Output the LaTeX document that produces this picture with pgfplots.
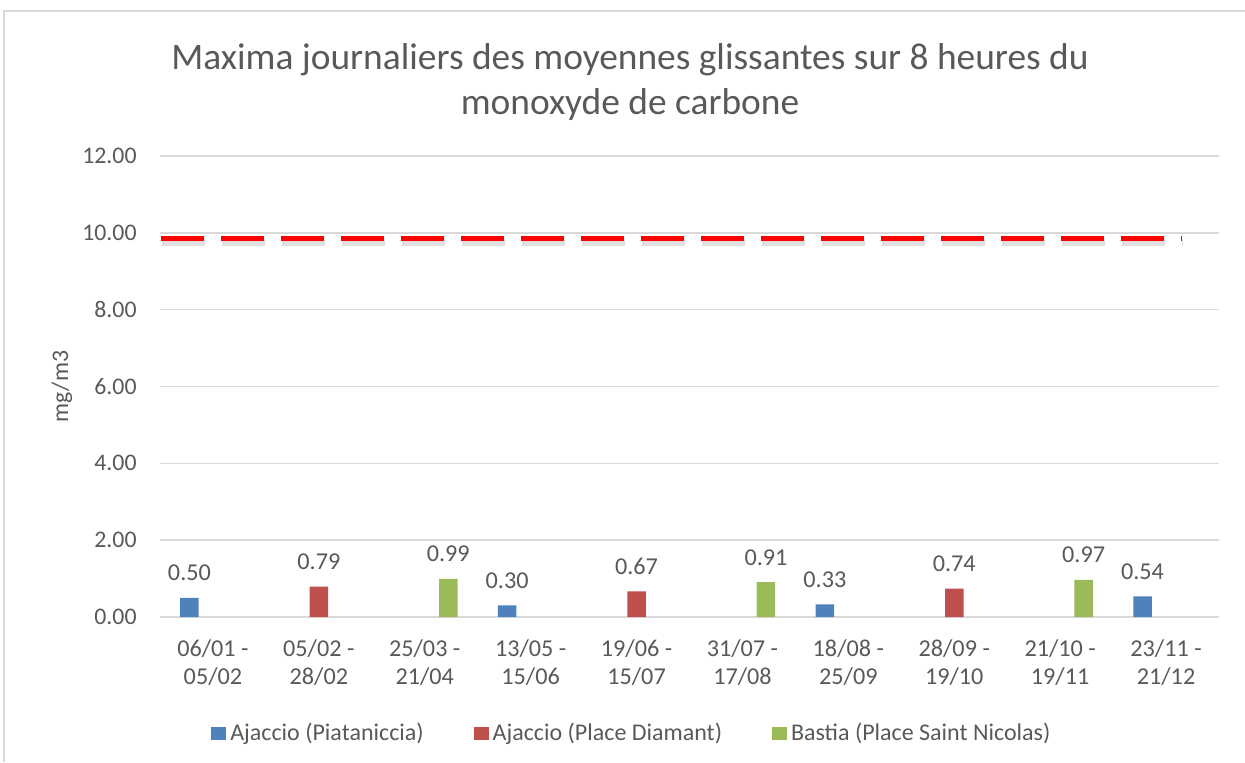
\documentclass[border=0pt]{standalone}
\usepackage{fontspec}
\setmainfont{Carlito}
\usepackage{pgfplots}
\pgfplotsset{compat=1.18}
\definecolor{cblue}{HTML}{4F81BD}
\definecolor{cred}{HTML}{C0504D}
\definecolor{cgreen}{HTML}{9BBB59}
\definecolor{ctext}{HTML}{595959}
\definecolor{cgrid}{HTML}{D9D9D9}
\newcommand{\tickfont}{\fontsize{11.9}{14}\selectfont}
\begin{document}
\begin{tikzpicture}
\useasboundingbox (0,0) rectangle (622.5pt,-381pt);
\draw[cgrid, line width=0.75pt] (2pt,-381pt) -- (2pt,-5.5pt) -- (622.5pt,-5.5pt);
\node[text=ctext, font=\fontsize{18.7}{22.5}\selectfont, align=center] at (315pt,-41.25pt)
  {Maxima journaliers des moyennes glissantes sur 8 heures du\\monoxyde de carbone};
\begin{axis}[
  at={(80pt,-308.5pt)}, anchor=south west,
  scale only axis, width=529.5pt, height=230.5pt,
  xmin=-0.5, xmax=9.5, ymin=0, ymax=12,
  ytick={0,2,...,12}, xtick={0,...,9},
  xticklabels={{06/01 -\\05/02},{05/02 -\\28/02},{25/03 -\\21/04},{13/05 -\\15/06},{19/06 -\\15/07},{31/07 -\\17/08},{18/08 -\\25/09},{28/09 -\\19/10},{21/10 -\\19/11},{23/11 -\\21/12}},
  xticklabel style={align=center, text=ctext, font=\fontsize{12.1}{14}\selectfont, anchor=north, inner sep=0pt, yshift=-11pt},
  y tick label style={/pgf/number format/.cd, fixed, fixed zerofill, precision=2, assume math mode=true, /tikz/.cd, text=ctext, font=\tickfont, anchor=east, inner sep=0pt, xshift=-11.5pt},
  ymajorgrids, grid style={cgrid, line width=0.75pt},
  axis line style={draw=none}, tick style={draw=none}, major tick length=0pt,
  ylabel={mg/m3},
  every axis y label/.style={at={(rel axis cs:0,0.5)}, xshift=-49pt, rotate=90, anchor=center, text=ctext, font=\tickfont},
  bar width=9.25pt,
  nodes near coords={\pgfmathprintnumber[fixed,fixed zerofill,precision=2,assume math mode=true]{\pgfplotspointmeta}},
  every node near coord/.append style={text=ctext, font=\fontsize{12.1}{14}\selectfont, anchor=base, inner sep=0pt, yshift=8.5pt},
  legend columns=3,
  legend style={at={(0.4465,-0.2516)}, anchor=center, draw=none, fill=none, text=ctext, font=\fontsize{12}{14}\selectfont,
    /tikz/every even column/.append style={column sep=23pt}},
  legend image code/.code={\fill[#1] (-0.5pt,-3.5pt) rectangle (7pt,3pt);},
]
\addplot[ybar, bar shift=-11.75pt, fill=cblue, draw=none, every node near coord/.append style={xshift=-11.75pt}] coordinates {(0,0.50) (3,0.30) (6,0.33) (9,0.54)};
\addplot[ybar, bar shift=0pt, fill=cred, draw=none] coordinates {(1,0.79) (4,0.67) (7,0.74)};
\addplot[ybar, bar shift=11.75pt, fill=cgreen, draw=none, every node near coord/.append style={xshift=11.75pt}] coordinates {(2,0.99) (5,0.91) (8,0.97)};
\addplot[forget plot, black, opacity=0.12, line width=3.8pt, dash pattern=on 21.5pt off 8.5pt, yshift=-2.2pt, xshift=0.5pt, nodes near coords={}] coordinates {(-0.49,9.86) (9.155,9.86)};
\addplot[forget plot, red, line width=2.65pt, dash pattern=on 21.5pt off 8.5pt, nodes near coords={}] coordinates {(-0.49,9.86) (9.155,9.86)};
\legend{Ajaccio (Piataniccia),Ajaccio (Place Diamant),Bastia (Place Saint Nicolas)}
\end{axis}
\end{tikzpicture}
\end{document}
